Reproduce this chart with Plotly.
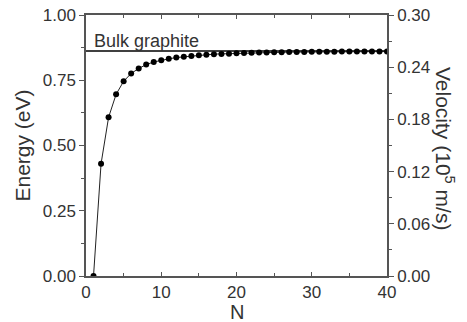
import plotly.graph_objects as go

N = list(range(1, 41))
energy = [0.0, 0.43, 0.608, 0.696, 0.746, 0.776, 0.795, 0.810, 0.820, 0.827,
          0.832, 0.837, 0.840, 0.843, 0.846, 0.848, 0.850, 0.851, 0.852, 0.853,
          0.854, 0.855, 0.856, 0.856, 0.857, 0.857, 0.858, 0.858, 0.858, 0.859,
          0.859, 0.859, 0.859, 0.860, 0.860, 0.860, 0.860, 0.860, 0.860, 0.860]
bulk_x = [0, 40]
bulk_y = [0.862, 0.862]

font_fam = "Liberation Sans, Arial, sans-serif"
txt = "#333333"
axc = "#555555"

fig = go.Figure()
fig.add_trace(go.Scatter(x=bulk_x, y=bulk_y, mode="lines",
                         line=dict(color="black", width=1.6), showlegend=False))
fig.add_trace(go.Scatter(x=N, y=energy, mode="lines+markers",
                         line=dict(color="#222222", width=1),
                         marker=dict(color="black", size=6), showlegend=False))
fig.add_trace(go.Scatter(x=[None], y=[None], yaxis="y2", showlegend=False))

pw, ph = 467 - 86 - 80, 322 - 15 - 46

fig.update_layout(
    width=467, height=322,
    margin=dict(l=86, r=80, t=15, b=46, autoexpand=False),
    plot_bgcolor="white", paper_bgcolor="white",
    font=dict(family=font_fam, size=17, color=txt),
    xaxis=dict(range=[0, 40], tickvals=[0, 10, 20, 30, 40], ticks="inside",
               ticklen=4, tickcolor=axc, showline=True, linecolor=axc, linewidth=1.5,
               mirror="ticks", showgrid=False, zeroline=False, automargin=False,
               minor=dict(dtick=5, ticks="inside", ticklen=3, tickcolor=axc),
               tickfont=dict(size=17)),
    yaxis=dict(range=[0, 1.0], tickvals=[0, 0.25, 0.5, 0.75, 1.0], tickformat=".2f",
               ticks="outside", ticklen=5, tickcolor=axc, showline=True,
               linecolor=axc, linewidth=1.5, showgrid=False, zeroline=False,
               automargin=False,
               minor=dict(dtick=0.125, ticks="outside", ticklen=3, tickcolor=axc),
               title=dict(text="Energy (eV)", font=dict(size=21), standoff=6),
               tickfont=dict(size=17)),
    yaxis2=dict(range=[0, 0.30], tickvals=[0, 0.06, 0.12, 0.18, 0.24, 0.30],
                tickformat=".2f", overlaying="y", side="right", ticks="outside",
                ticklen=5, tickcolor=axc, showline=True, linecolor=axc, linewidth=1.5,
                showgrid=False, zeroline=False, automargin=False,
                minor=dict(dtick=0.03, ticks="outside", ticklen=3, tickcolor=axc),
                tickfont=dict(size=17)),
    annotations=[
        dict(text="Bulk graphite", x=0.8, y=0.862, xref="x", yref="y",
             xanchor="left", yanchor="bottom", showarrow=False,
             font=dict(size=18, color=txt), yshift=-2),
        dict(text="Velocity (10<sup>5</sup> m/s)", x=(445 - 86) / pw,
             y=(276 - 148) / ph, xref="paper", yref="paper", textangle=90,
             xanchor="center", yanchor="middle", showarrow=False,
             font=dict(size=21, color=txt)),
        dict(text="N", x=0.5, y=(276 - 324) / ph, xref="paper", yref="paper",
             xanchor="center", yanchor="bottom", showarrow=False, borderpad=0,
             font=dict(size=20, color=txt)),
    ],
)

fig.write_html("out.html")
